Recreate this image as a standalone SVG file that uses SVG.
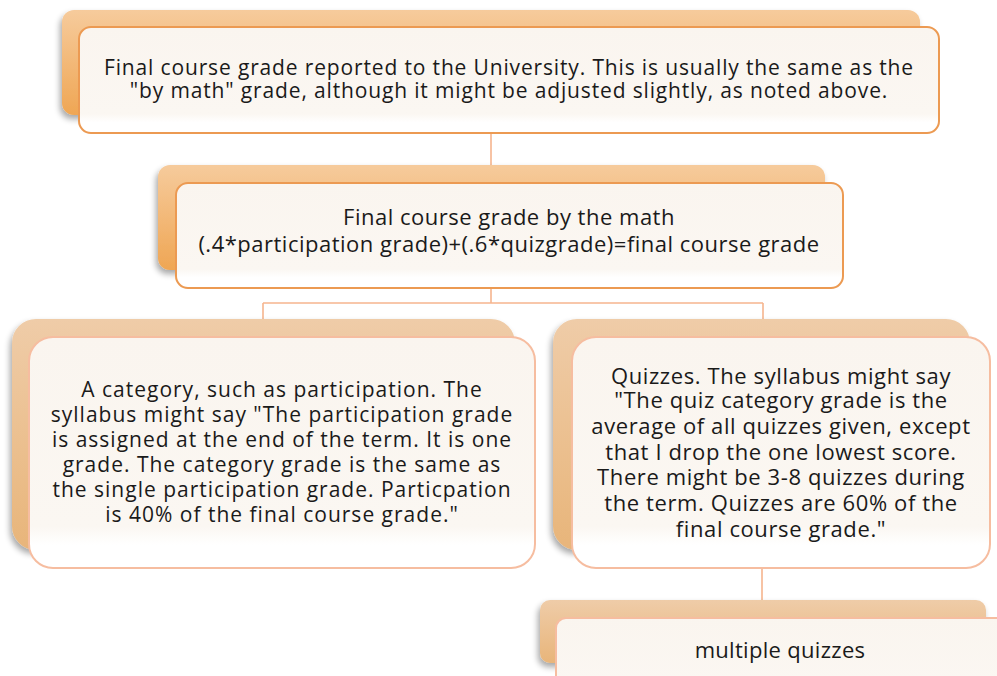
<svg xmlns="http://www.w3.org/2000/svg" width="997" height="676" viewBox="0 0 997 676">
<defs>
<linearGradient id="backTop" x1="0" y1="0" x2="0" y2="1">
<stop offset="0" stop-color="#f6cb9c"/>
<stop offset="1" stop-color="#efa654"/>
</linearGradient>
<linearGradient id="backLow" x1="0" y1="0" x2="0" y2="1">
<stop offset="0" stop-color="#efcca8"/>
<stop offset="1" stop-color="#e8b57a"/>
</linearGradient>
<linearGradient id="front" x1="0" y1="0" x2="0" y2="1">
<stop offset="0" stop-color="#faf5ef"/>
<stop offset="0.82" stop-color="#fbf7f2"/>
<stop offset="0.9" stop-color="#ffffff"/>
<stop offset="1" stop-color="#ffffff"/>
</linearGradient>
<filter id="sh" x="-10%" y="-10%" width="120%" height="130%">
<feGaussianBlur in="SourceAlpha" stdDeviation="3"/>
<feOffset dx="-2" dy="4" result="b"/>
<feComponentTransfer><feFuncA type="linear" slope="0.35"/></feComponentTransfer>
<feMerge><feMergeNode/><feMergeNode in="SourceGraphic"/></feMerge>
</filter>
</defs>
<style>
.bt{fill:url(#backTop);filter:url(#sh)}
.bl{fill:url(#backLow);filter:url(#sh)}
.ft{fill:url(#front);stroke:#ec9a52;stroke-width:2}
.fl{fill:url(#front);stroke:#f6bda0;stroke-width:2}
.conn{fill:none;stroke:#f6b58e;stroke-width:1.6}
text{font-family:"Open Sans",Lato,"Liberation Sans",sans-serif;font-size:22px;letter-spacing:0.3px;fill:#1a1a1a;text-anchor:middle}
.t1{font-size:21px;letter-spacing:0.85px}
.t2{font-size:22px;letter-spacing:0.5px}
.t3{font-size:21px;letter-spacing:1px}
.t4{font-size:22px;letter-spacing:0.6px}
</style>
<g id="connectors">
<path class="conn" d="M491 133V303M263 303H763M263 303V337M763 303V337M762 568V600"/>
</g>
<g id="node-final">
<rect class="bt" x="62" y="10" width="858" height="105" rx="12"/>
<rect class="ft" x="79" y="27" width="860" height="106" rx="12"/>
<text class="t1" x="509" y="75">Final course grade reported to the University. This is usually the same as the</text>
<text class="t1" x="509" y="98">"by math" grade, although it might be adjusted slightly, as noted above.</text>
</g>
<g id="node-math">
<rect class="bt" x="158" y="165" width="667" height="105" rx="12"/>
<rect class="ft" x="176" y="183" width="667" height="105" rx="12"/>
<text class="t2" x="509" y="225">Final course grade by the math</text>
<text class="t2" x="509" y="252">(.4*participation grade)+(.6*quizgrade)=final course grade</text>
</g>
<g id="node-participation">
<rect class="bl" x="12" y="319" width="503" height="231" rx="24"/>
<rect class="fl" x="29" y="337" width="506" height="231" rx="24"/>
<text class="t3" x="282" y="397">A category, such as participation. The</text>
<text class="t3" x="282" y="422">syllabus might say "The participation grade</text>
<text class="t3" x="282" y="447">is assigned at the end of the term. It is one</text>
<text class="t3" x="282" y="472">grade. The category grade is the same as</text>
<text class="t3" x="282" y="497">the single participation grade. Particpation</text>
<text class="t3" x="282" y="522">is 40% of the final course grade."</text>
</g>
<g id="node-quizzes">
<rect class="bl" x="553" y="319" width="417" height="231" rx="24"/>
<rect class="fl" x="572" y="337" width="418" height="231" rx="24"/>
<text class="t4" x="781" y="384">Quizzes. The syllabus might say</text>
<text class="t4" x="781" y="408">"The quiz category grade is the</text>
<text class="t4" x="781" y="434">average of all quizzes given, except</text>
<text class="t4" x="781" y="460">that I drop the one lowest score.</text>
<text class="t4" x="781" y="485">There might be 3-8 quizzes during</text>
<text class="t4" x="781" y="511">the term. Quizzes are 60% of the</text>
<text class="t4" x="781" y="537">final course grade."</text>
</g>
<g id="node-multiple">
<rect class="bl" x="540" y="600" width="446" height="63" rx="10"/>
<rect class="fl" x="556" y="618" width="460" height="80" rx="10"/>
<text x="780" y="658">multiple quizzes</text>
</g>
</svg>
